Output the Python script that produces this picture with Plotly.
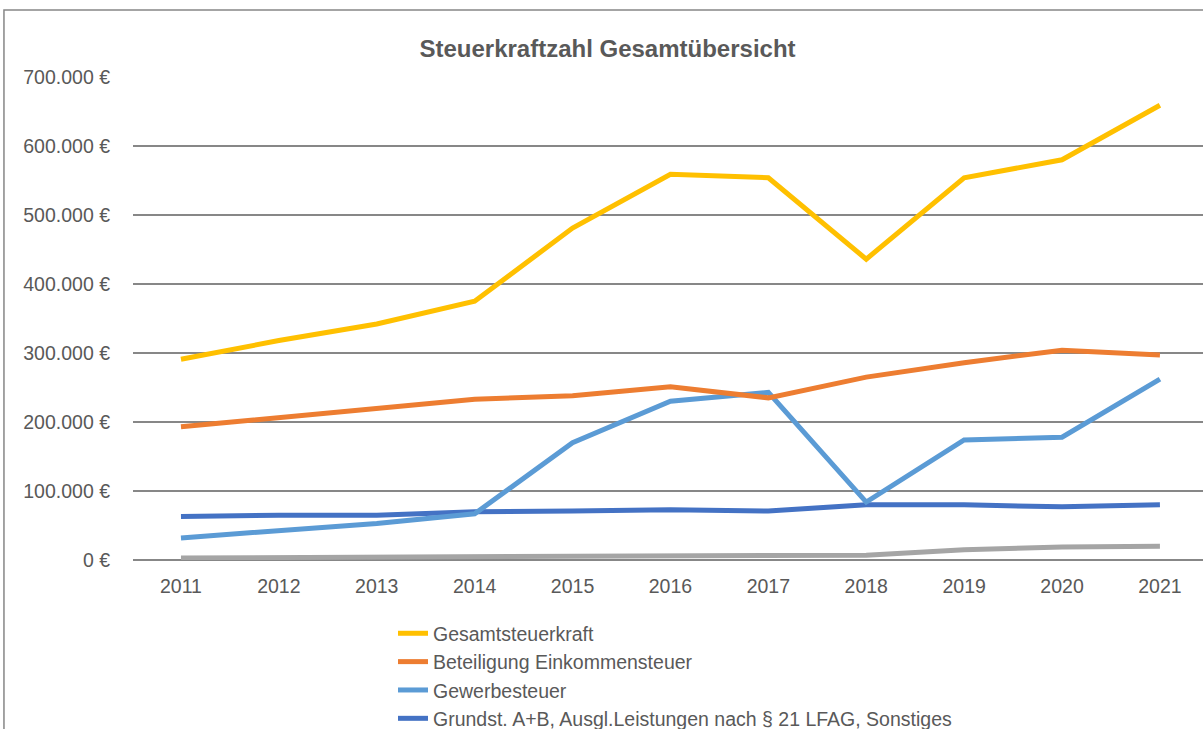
import plotly.graph_objects as go

years = [2011, 2012, 2013, 2014, 2015, 2016, 2017, 2018, 2019, 2020, 2021]

gesamt = [291000, 318000, 342000, 375000, 481000, 559000, 554000, 436000, 554000, 580000, 659000]
einkommen = [193000, 206000, 219000, 233000, 238000, 251000, 235000, 265000, 286000, 304000, 297000]
gewerbe = [32000, 43000, 53000, 67000, 170000, 230000, 243000, 84000, 174000, 178000, 262000]
grundst = [63000, 65000, 65000, 70000, 71000, 73000, 71000, 80000, 80000, 77000, 80000]
sonstige = [3000, 3500, 4000, 4000, 4000, 5000, 5000, 7000, 15000, 19000, 20000]

series = [
    ("Gesamtsteuerkraft", gesamt, "#FFC000", True),
    ("Beteiligung Einkommensteuer", einkommen, "#ED7D31", True),
    ("Gewerbesteuer", gewerbe, "#5B9BD5", True),
    ("Grundst. A+B, Ausgl.Leistungen nach § 21 LFAG, Sonstiges", grundst, "#4472C4", True),
    ("Schlüsselzuweisungen", sonstige, "#A5A5A5", False),  # legend entry is cut off in the original
]

FONT = "Liberation Sans, Arial, sans-serif"
GREY = "#595959"

fig = go.Figure()
# grey series first so it sits under the others
for name, vals, color, show in reversed(series):
    fig.add_trace(go.Scatter(
        x=years, y=vals, name=name, mode="lines",
        line=dict(color=color, width=5),
        showlegend=show,
    ))

fig.update_layout(
    width=1203, height=729,
    paper_bgcolor="white", plot_bgcolor="white",
    separators=",.",
    font=dict(family=FONT, size=19.5, color=GREY),
    title=dict(text="<b>Steuerkraftzahl Gesamtübersicht</b>",
               x=0.505, xanchor="center", y=0.934, yanchor="middle",
               font=dict(family=FONT, size=24, color=GREY)),
    margin=dict(l=133, r=0, t=77, b=169, autoexpand=False),
    legend=dict(x=0.243, xanchor="left", y=-0.112, yanchor="top",
                traceorder="reversed", font=dict(size=19.5, color=GREY),
                itemwidth=30, bgcolor="rgba(0,0,0,0)"),
    showlegend=True,
    shapes=[dict(type="rect", xref="paper", yref="paper",
                 x0=-0.1206, x1=1.02, y0=-0.5, y1=1.1387,
                 line=dict(color="#878787", width=1.5), layer="below")],
)

fig.update_xaxes(
    range=[2010.51, 2021.44], tickvals=years, ticktext=[str(y) for y in years],
    showgrid=False, zeroline=False, showline=False, ticks="",
    ticklabelstandoff=12,
)
fig.update_yaxes(
    range=[0, 700000], dtick=100000, tickformat=",.0f", ticksuffix=" €",
    showgrid=True, gridcolor="#878787", gridwidth=1.5,
    zeroline=True, zerolinecolor="#878787", zerolinewidth=1.5,
    showline=False, ticks="", ticklabelstandoff=22,
)

fig.write_html("out.html", config={"displayModeBar": False},
               post_script="document.body.style.margin='0';")
